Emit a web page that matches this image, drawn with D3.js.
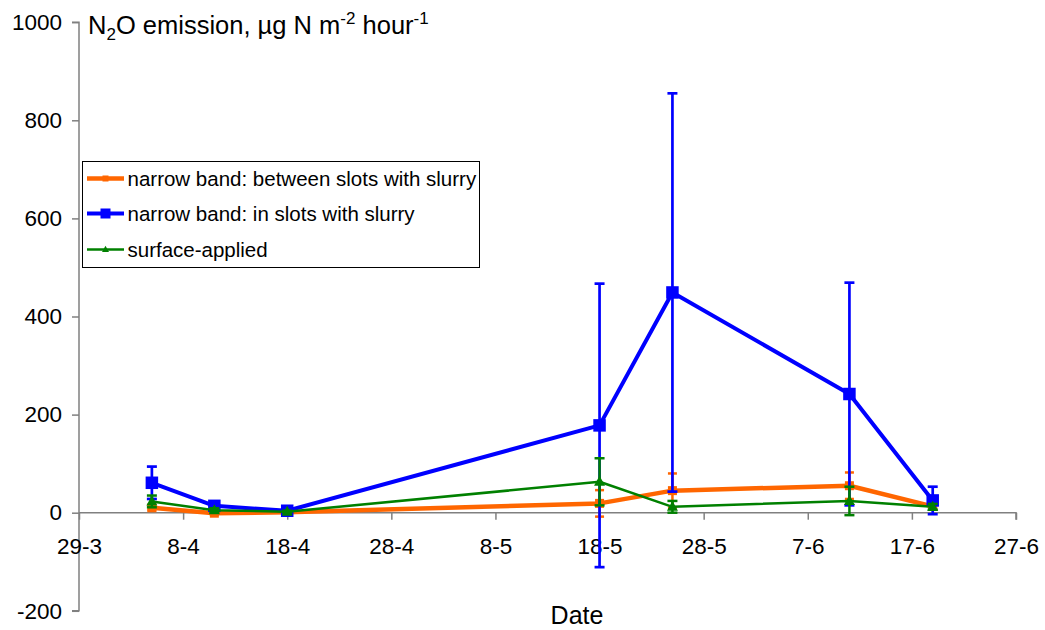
<!DOCTYPE html>
<html>
<head>
<meta charset="utf-8">
<script src="https://cdn.jsdelivr.net/npm/d3@7"></script>
<style>
  html, body { margin: 0; padding: 0; background: #fff; }
  svg { display: block; font-family: Arial, "Liberation Sans", sans-serif; }
</style>
</head>
<body>
<svg id="chart" width="1045" height="630"></svg>
<script>
// Sampling dates (day-month)
const sampleDates = ["2005-04-05", "2005-04-11", "2005-04-18", "2005-05-18", "2005-05-25", "2005-06-11", "2005-06-19"];

// N2O emission means and error bar half-widths, µg N m-2 hour-1
const betweenSlots    = [10, -1, 1, 19, 45, 55, 13];
const betweenSlotsErr = [5, 3, 2, 27, 35, 27, 5];
const inSlots         = [61, 14, 4, 178, 449, 242, 25];
const inSlotsErr      = [33, 6, 3, 289, 406, 227, 28];
const surfaceApplied    = [23, 5, 2, 63, 12, 24, 12];
const surfaceAppliedErr = [12, 4, 2, 48, 12, 29, 6];

const seriesNames = [
  "narrow band: between slots with slurry",
  "narrow band: in slots with slurry",
  "surface-applied"
];

// Axis ticks
const xTickDates = ["2005-03-29", "2005-04-08", "2005-04-18", "2005-04-28", "2005-05-08",
                    "2005-05-18", "2005-05-28", "2005-06-07", "2005-06-17", "2005-06-27"];
const yTicks = [-200, 0, 200, 400, 600, 800, 1000];

const parse = d3.utcParse("%Y-%m-%d");
const svg = d3.select("#chart");

const x = d3.scaleUtc()
  .domain([parse(xTickDates[0]), parse(xTickDates[xTickDates.length - 1])])
  .range([79, 1016]);
const y = d3.scaleLinear().domain([-200, 1000]).range([610.8, 22.2]);

const axisColor = "#808080";

// Y axis (plain hyphen for negative numbers)
const yAxis = svg.append("g").attr("transform", "translate(79,0)")
  .call(d3.axisLeft(y).tickValues(yTicks).tickSize(7).tickPadding(10).tickFormat(d => String(d)));
yAxis.select(".domain").attr("stroke", axisColor).attr("stroke-width", 1.5).attr("d", `M-7,${y(1000)}H0V${y(-200)}H-7`);
yAxis.selectAll(".tick line").attr("stroke", axisColor).attr("stroke-width", 1.5);
yAxis.selectAll(".tick text").attr("font-size", 22.5).attr("fill", "#000")
  .attr("font-family", "Arial, 'Liberation Sans', sans-serif");

// X axis along zero
const xAxis = svg.append("g").attr("transform", `translate(0,${y(0)})`)
  .call(d3.axisBottom(x).tickValues(xTickDates.map(parse)).tickSize(7).tickPadding(18)
    .tickFormat(d3.utcFormat("%-d-%-m")));
xAxis.select(".domain").attr("stroke", axisColor).attr("stroke-width", 1.5).attr("d", `M${x.range()[0]},0H${x.range()[1]}V7`);
xAxis.selectAll(".tick line").attr("stroke", axisColor).attr("stroke-width", 1.5);
xAxis.selectAll(".tick text").attr("font-size", 22.5).attr("fill", "#000")
  .attr("font-family", "Arial, 'Liberation Sans', sans-serif");

// Axis titles
const title = svg.append("text").attr("x", 88).attr("y", 34).attr("font-size", 25.5).attr("fill", "#000");
title.append("tspan").text("N");
title.append("tspan").attr("font-size", 17).attr("dy", 6).text("2");
title.append("tspan").attr("dy", -6).text("O emission, µg N m");
title.append("tspan").attr("font-size", 17).attr("dy", -10).text("-2");
title.append("tspan").attr("dy", 10).text(" hour");
title.append("tspan").attr("font-size", 17).attr("dy", -10).text("-1");

svg.append("text").attr("x", 577).attr("y", 624).attr("text-anchor", "middle")
  .attr("font-size", 25).attr("fill", "#000").text("Date");

// Series definitions
const series = [
  { name: seriesNames[0], values: betweenSlots, err: betweenSlotsErr, color: "#FF6600", width: 4.5, marker: "square", size: 9, capW: 9, errW: 2.5 },
  { name: seriesNames[1], values: inSlots, err: inSlotsErr, color: "#0000FF", width: 4, marker: "square", size: 12.5, capW: 10, errW: 2.7 },
  { name: seriesNames[2], values: surfaceApplied, err: surfaceAppliedErr, color: "#008000", width: 2.5, marker: "triangle", size: 11, capW: 10, errW: 2.5 }
];

const dates = sampleDates.map(parse);
const line = d3.line().x(d => x(d.date)).y(d => y(d.value));

function drawMarker(g, kind, cx, cy, size, color) {
  if (kind === "square") {
    g.append("rect").attr("x", cx - size / 2).attr("y", cy - size / 2)
      .attr("width", size).attr("height", size).attr("fill", color);
  } else {
    const h = size * 0.9;
    g.append("path")
      .attr("d", `M${cx},${cy - h * 0.6}L${cx + size / 2},${cy + h * 0.4}L${cx - size / 2},${cy + h * 0.4}Z`)
      .attr("fill", color);
  }
}

series.forEach(s => {
  const pts = s.values.map((v, i) => ({ date: dates[i], value: v, err: s.err[i] }));
  const g = svg.append("g");
  // error bars
  pts.forEach(p => {
    const cx = x(p.date), y1 = y(p.value + p.err), y2 = y(p.value - p.err);
    g.append("line").attr("x1", cx).attr("x2", cx).attr("y1", y1).attr("y2", y2)
      .attr("stroke", s.color).attr("stroke-width", s.errW);
    [y1, y2].forEach(cy => g.append("line")
      .attr("x1", cx - s.capW / 2).attr("x2", cx + s.capW / 2).attr("y1", cy).attr("y2", cy)
      .attr("stroke", s.color).attr("stroke-width", s.errW));
  });
  g.append("path").datum(pts).attr("d", line).attr("fill", "none")
    .attr("stroke", s.color).attr("stroke-width", s.width).attr("stroke-linejoin", "round");
  pts.forEach(p => drawMarker(g, s.marker, x(p.date), y(p.value), s.size, s.color));
});

// Legend
const legend = svg.append("g");
legend.append("rect").attr("x", 82.5).attr("y", 161.5).attr("width", 397).attr("height", 106)
  .attr("fill", "#fff").attr("stroke", "#000").attr("stroke-width", 1);
const legendRows = [178.5, 213.5, 249.5];
const legendSizes = [6, 10, 7];
series.forEach((s, i) => {
  const cy = legendRows[i];
  legend.append("line").attr("x1", 87).attr("x2", 124).attr("y1", cy).attr("y2", cy)
    .attr("stroke", s.color).attr("stroke-width", s.width);
  drawMarker(legend, s.marker, 105.5, cy, legendSizes[i], s.color);
  legend.append("text").attr("x", 127.5).attr("y", cy + 7.5).attr("font-size", 20.5)
    .attr("fill", "#000").text(s.name);
});
</script>
</body>
</html>
